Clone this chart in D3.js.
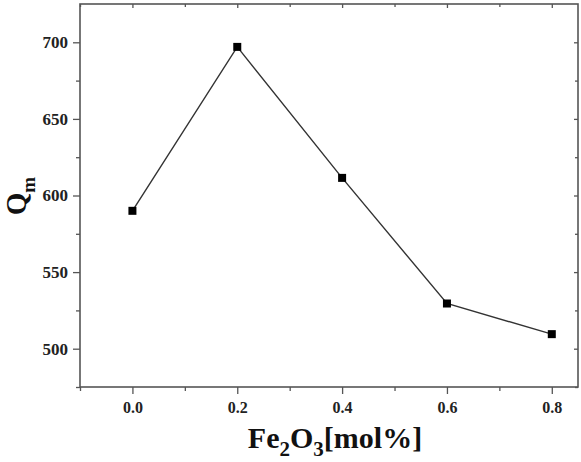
<!DOCTYPE html>
<html><head><meta charset="utf-8">
<script src="https://cdn.jsdelivr.net/npm/d3@7"></script>
<style>body{margin:0;background:#fff}svg{display:block}</style>
</head><body><svg id="c" width="581" height="462"></svg>
<script>
const xValues = [0.0, 0.2, 0.4, 0.6, 0.8];
const qmValues = [590, 697, 611.5, 529.5, 509.5];
const xTicks = [0.0, 0.2, 0.4, 0.6, 0.8];
const yTicks = [500, 550, 600, 650, 700];
const xMinor = [-0.1, 0.1, 0.3, 0.5, 0.7];
const yMinor = [475, 525, 575, 625, 675];

const svg = d3.select("#c");
const L = 80, R = 578, T = 4, B = 387;
const x = d3.scaleLinear().domain([-0.1, 0.85]).range([L, R]);
const y = d3.scaleLinear().domain([475, 725]).range([B, T]);
const frame = "#555";
const font = "'Liberation Serif', 'Times New Roman', serif";

svg.append("rect").attr("x", L).attr("y", T).attr("width", R - L).attr("height", B - T)
  .attr("fill", "none").attr("stroke", frame).attr("stroke-width", 1.6);

const xb = svg.append("g").attr("transform", `translate(0,${B})`)
  .call(d3.axisBottom(x).tickValues(xTicks).tickFormat(d3.format(".1f")).tickSize(7).tickPadding(8));
const xbm = svg.append("g").attr("transform", `translate(0,${B})`)
  .call(d3.axisBottom(x).tickValues(xMinor).tickFormat("").tickSize(4));
const xt = svg.append("g").attr("transform", `translate(0,${T})`)
  .call(d3.axisBottom(x).tickValues(xTicks).tickFormat("").tickSize(4));
const xtm = svg.append("g").attr("transform", `translate(0,${T})`)
  .call(d3.axisBottom(x).tickValues(xMinor).tickFormat("").tickSize(3));
const yl = svg.append("g").attr("transform", `translate(${L},0)`)
  .call(d3.axisLeft(y).tickValues(yTicks).tickSize(7).tickPadding(5));
const ylm = svg.append("g").attr("transform", `translate(${L},0)`)
  .call(d3.axisLeft(y).tickValues(yMinor).tickFormat("").tickSize(4));
const yr = svg.append("g").attr("transform", `translate(${R},0)`)
  .call(d3.axisLeft(y).tickValues(yTicks).tickFormat("").tickSize(4));
const yrm = svg.append("g").attr("transform", `translate(${R},0)`)
  .call(d3.axisLeft(y).tickValues(yMinor).tickFormat("").tickSize(3));

[xb, xbm, xt, xtm, yl, ylm, yr, yrm].forEach(g => {
  g.select(".domain").remove();
  g.selectAll("line").attr("stroke", frame).attr("stroke-width", 1.3);
  g.selectAll("text").attr("font-family", font).attr("font-weight", "bold")
    .attr("font-size", 16).attr("fill", "#222");
});
yl.selectAll("text").attr("font-size", 17);

const line = d3.line().x((d, i) => x(xValues[i])).y(d => y(d));
svg.append("path").datum(qmValues).attr("d", line)
  .attr("fill", "none").attr("stroke", "#333").attr("stroke-width", 1.4);
svg.selectAll("rect.pt").data(qmValues).enter().append("rect").attr("class", "pt")
  .attr("x", (d, i) => x(xValues[i]) - 4).attr("y", d => y(d) - 4)
  .attr("width", 8).attr("height", 8).attr("fill", "#000");

const xt2 = svg.append("text").attr("x", 335).attr("y", 448).attr("text-anchor", "middle")
  .attr("font-family", font).attr("font-weight", "bold").attr("font-size", 30).attr("fill", "#111");
xt2.append("tspan").text("Fe");
xt2.append("tspan").text("2").attr("font-size", 21).attr("dy", 8);
xt2.append("tspan").text("O").attr("dy", -8);
xt2.append("tspan").text("3").attr("font-size", 21).attr("dy", 8);
xt2.append("tspan").text("[mol%]").attr("dy", -8);

const yt = svg.append("text").attr("transform", "translate(26,196) rotate(-90)").attr("text-anchor", "middle")
  .attr("font-family", font).attr("font-weight", "bold").attr("font-size", 29).attr("fill", "#111");
yt.append("tspan").text("Q");
yt.append("tspan").text("m").attr("font-size", 19).attr("dy", 9);
</script></body></html>
